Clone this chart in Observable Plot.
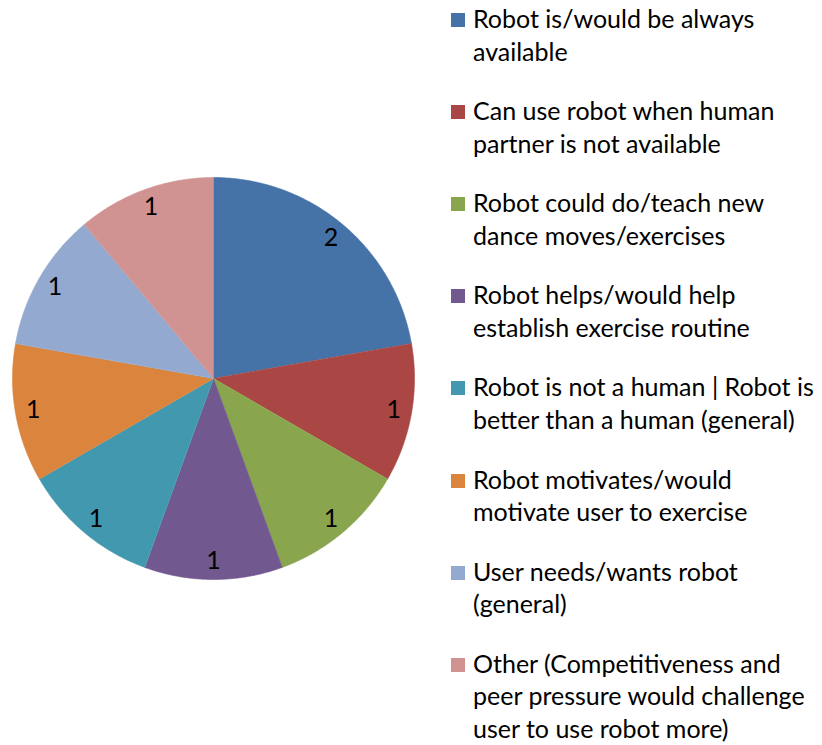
<!DOCTYPE html>
<html>
<head>
<meta charset="utf-8">
<script src="https://cdn.jsdelivr.net/npm/d3@7"></script>
<script src="https://cdn.jsdelivr.net/npm/@observablehq/plot@0.6"></script>
<style>
  html, body { margin: 0; padding: 0; background: #fff; }
  #wrap { position: relative; width: 822px; height: 745px; overflow: hidden; font-family: Lato, "Open Sans", sans-serif; }
  #pie { position: absolute; left: 0; top: 0; }
  .item { position: absolute; left: 451px; font-size: 25px; line-height: 32.6px; color: #000; white-space: pre; }
  .sw { position: absolute; left: 0; width: 14px; height: 14px; }
  .lbl { position: absolute; left: 22px; top: 0; }
</style>
</head>
<body>
<div id="wrap"><div id="pie"></div><div id="legend"></div></div>
<script>
const categories = [
  "Robot is/would be always\navailable",
  "Can use robot when human\npartner is not available",
  "Robot could do/teach new\ndance moves/exercises",
  "Robot helps/would help\nestablish exercise routine",
  "Robot is not a human | Robot is\nbetter than a human (general)",
  "Robot motivates/would\nmotivate user to exercise",
  "User needs/wants robot\n(general)",
  "Other (Competitiveness and\npeer pressure would challenge\nuser to use robot more)"
];
const counts = [2, 1, 1, 1, 1, 1, 1, 1];
const colors = ["#4572A7", "#AA4643", "#89A54E", "#71588F", "#4198AF", "#DB843D", "#93A9CF", "#D19392"];

const data = categories.map((c, i) => ({key: c, value: counts[i]}));
const arcs = d3.pie().sort(null).value(d => d.value)(data);

// polygon vertices of each slice (unit circle, angle clockwise from top)
const pts = [];
for (const a of arcs) {
  pts.push({key: a.data.key, x: 0, y: 0});
  const n = Math.max(2, Math.ceil((a.endAngle - a.startAngle) / (Math.PI / 360)));
  for (let k = 0; k <= n; k++) {
    const t = a.startAngle + (a.endAngle - a.startAngle) * k / n;
    pts.push({key: a.data.key, x: Math.sin(t), y: Math.cos(t)});
  }
}
const labelR = 0.91;
const labels = arcs.map(a => {
  const m = (a.startAngle + a.endAngle) / 2;
  return {key: a.data.key, value: a.data.value, x: labelR * Math.sin(m), y: labelR * Math.cos(m)};
});

const chart = Plot.plot({
  width: 440,
  height: 745,
  marginLeft: 12,
  marginRight: 26,
  marginTop: 177,
  marginBottom: 166,
  x: {domain: [-1, 1], axis: null},
  y: {domain: [-1, 1], axis: null},
  color: {domain: categories, range: colors},
  style: {fontFamily: "Lato, 'Open Sans', sans-serif", background: "transparent"},
  marks: [
    Plot.line(pts, {x: "x", y: "y", z: "key", fill: "key", stroke: "key", strokeWidth: 0.6, curve: "linear"}),
    Plot.text(labels, {x: "x", y: "y", text: d => String(d.value), fontSize: 25, fill: "#000", textAnchor: "middle", lineAnchor: "middle"})
  ]
});
document.getElementById("pie").appendChild(chart);

const legend = document.getElementById("legend");
categories.forEach((c, i) => {
  const item = document.createElement("div");
  item.className = "item";
  item.style.top = (2 + i * 92.1) + "px";
  const sw = document.createElement("div");
  sw.className = "sw";
  sw.style.background = colors[i];
  sw.style.top = "11px";
  const lbl = document.createElement("div");
  lbl.className = "lbl";
  lbl.textContent = c;
  item.appendChild(sw);
  item.appendChild(lbl);
  legend.appendChild(item);
});
</script>
</body>
</html>
